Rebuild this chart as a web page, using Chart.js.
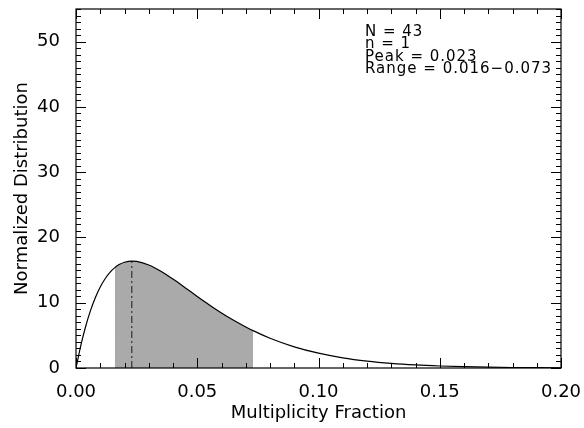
<!DOCTYPE html>
<html>
<head>
<meta charset="utf-8">
<script src="https://cdn.jsdelivr.net/npm/chart.js@4.4.1/dist/chart.umd.min.js"></script>
<style>
  html, body { margin: 0; padding: 0; background: #fff; }
  #wrap { width: 584px; height: 428px; }
</style>
</head>
<body>
<div id="wrap"><canvas id="distChart" width="584" height="428"></canvas></div>
<script>
// values
const fraction = [0, 0.002, 0.004, 0.006, 0.008, 0.010, 0.012, 0.014, 0.016, 0.018, 0.020, 0.023,
  0.025, 0.030, 0.035, 0.040, 0.045, 0.050, 0.055, 0.060, 0.065, 0.070, 0.073, 0.080, 0.090,
  0.100, 0.110, 0.120, 0.130, 0.140, 0.150, 0.160, 0.170, 0.180, 0.190, 0.200];
const density = [0, 3.48, 6.40, 8.82, 10.80, 12.41, 13.68, 14.65, 15.38, 15.88, 16.20, 16.38,
  16.33, 15.79, 14.83, 13.62, 12.31, 10.97, 9.67, 8.44, 7.31, 6.29, 5.72, 4.56, 3.24,
  2.27, 1.56, 1.06, 0.71, 0.47, 0.31, 0.20, 0.13, 0.08, 0.05, 0.03];

const rangeLow = 0.016;
const rangeHigh = 0.073;
const peak = 0.023;
const annotation = ["N = 43", "n = 1", "Peak = 0.023", "Range = 0.016\u22120.073"];

const xTicks = [0, 0.05, 0.10, 0.15, 0.20];
const yTicks = [0, 10, 20, 30, 40, 50];

const curve = fraction.map((f, i) => ({ x: f, y: density[i] }));
const shaded = curve.filter(p => p.x >= rangeLow && p.x <= rangeHigh);
const peakY = density[fraction.indexOf(peak)];

const FONT = "'DejaVu Sans', sans-serif";

// IDL-style box with inward ticks on all four sides
const boxPlugin = {
  id: "box",
  afterDraw(chart) {
    const { ctx, chartArea: a, scales } = chart;
    const xs = scales.x, ys = scales.y;
    ctx.save();
    ctx.strokeStyle = "#000";
    ctx.lineWidth = 1.2;
    ctx.strokeRect(a.left, a.top, a.right - a.left, a.bottom - a.top);
    ctx.lineWidth = 1;
    ctx.beginPath();
    for (let k = 0; k <= 20; k++) {
      const v = k / 100;
      const px = Math.round(xs.getPixelForValue(v)) + 0.5;
      const len = k % 5 === 0 ? 10 : 5;
      ctx.moveTo(px, a.bottom); ctx.lineTo(px, a.bottom - len);
      ctx.moveTo(px, a.top); ctx.lineTo(px, a.top + len);
    }
    for (let k = 0; k <= 55; k++) {
      const py = Math.round(ys.getPixelForValue(k)) + 0.5;
      const len = k % 10 === 0 ? 10 : 5;
      ctx.moveTo(a.left, py); ctx.lineTo(a.left + len, py);
      ctx.moveTo(a.right, py); ctx.lineTo(a.right - len, py);
    }
    ctx.stroke();

    ctx.fillStyle = "#000";
    ctx.font = "15px " + FONT;
    ctx.letterSpacing = "1px";
    ctx.textBaseline = "alphabetic";
    const base = [36, 48, 61, 73];
    annotation.forEach((t, i) => ctx.fillText(t, 365, base[i]));
    ctx.restore();
  }
};

new Chart(document.getElementById("distChart"), {
  type: "scatter",
  data: {
    datasets: [
      {
        data: curve,
        showLine: true,
        borderColor: "#000",
        borderWidth: 1.2,
        pointRadius: 0,
        cubicInterpolationMode: "monotone",
        order: 0
      },
      {
        data: [{ x: peak, y: 0 }, { x: peak, y: peakY }],
        showLine: true,
        borderColor: "#333",
        borderWidth: 1.2,
        borderDash: [7, 3, 2, 3],
        pointRadius: 0,
        order: 1
      },
      {
        data: shaded,
        showLine: true,
        borderWidth: 0,
        borderColor: "rgba(0,0,0,0)",
        backgroundColor: "#aaaaaa",
        fill: "origin",
        pointRadius: 0,
        cubicInterpolationMode: "monotone",
        order: 2
      }
    ]
  },
  options: {
    responsive: false,
    animation: false,
    layout: { padding: { left: 0, right: 23, top: 9, bottom: 0 } },
    plugins: { legend: { display: false }, tooltip: { enabled: false } },
    scales: {
      x: {
        type: "linear",
        min: 0, max: 0.2,
        afterFit(s) { s.height = 60; s.paddingLeft = 0; s.paddingRight = 0; },
        afterBuildTicks(s) { s.ticks = xTicks.map(v => ({ value: v })); },
        grid: { display: false },
        border: { display: false },
        ticks: {
          color: "#000",
          padding: 6,
          font: { family: FONT, size: 18 },
          callback: v => v.toFixed(2),
          maxRotation: 0
        },
        title: {
          display: true,
          text: "Multiplicity Fraction",
          color: "#000",
          font: { family: FONT, size: 18 },
          padding: { top: 0, bottom: 4 }
        }
      },
      y: {
        type: "linear",
        min: 0, max: 55,
        afterFit(s) { s.width = 76; s.paddingTop = 0; s.paddingBottom = 0; },
        afterBuildTicks(s) { s.ticks = yTicks.map(v => ({ value: v })); },
        grid: { display: false },
        border: { display: false },
        ticks: {
          color: "#000",
          padding: 8,
          font: { family: FONT, size: 18 }
        },
        title: {
          display: true,
          text: "Normalized Distribution",
          color: "#000",
          font: { family: FONT, size: 18 },
          padding: { top: 12, bottom: 0 }
        }
      }
    }
  },
  plugins: [boxPlugin]
});
</script>
</body>
</html>
